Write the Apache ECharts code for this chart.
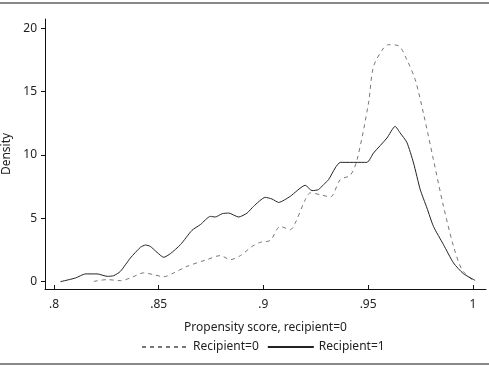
<!DOCTYPE html>
<html>
<head>
<meta charset="utf-8">
<script src="https://cdn.jsdelivr.net/npm/echarts@6/dist/echarts.min.js"></script>
<style>
  html, body { margin: 0; padding: 0; background: #fff; }
  #chart1 { width: 489px; height: 366px; }
</style>
</head>
<body>
<div id="chart1"></div>
<script>
// Recipient=0 (dashed)
const scoreR0 = [0.819, 0.8254, 0.8317, 0.8365, 0.8428, 0.8476, 0.8524, 0.8572, 0.8636, 0.8731, 0.8794, 0.8842, 0.889,
    0.8946, 0.8985, 0.9033, 0.9081, 0.9128, 0.9152, 0.92, 0.9224, 0.9272, 0.9319, 0.9367, 0.9415, 0.9447, 0.9502,
    0.9526, 0.9574, 0.9597, 0.9645, 0.9685, 0.9725, 0.9764, 0.9812, 0.986, 0.9908, 0.9948, 0.9987, 1.0011];
const densityR0 = [0.02, 0.16, 0.08, 0.29, 0.69, 0.55, 0.39, 0.69, 1.21, 1.74, 2.05, 1.74, 2.05,
    2.78, 3.1, 3.26, 4.36, 4.1, 4.63, 6.47, 7.0, 6.86, 6.68, 8.04, 8.4, 9.6, 14.1,
    16.98, 18.43, 18.69, 18.61, 17.51, 15.93, 13.3, 9.62, 5.94, 2.78, 0.95, 0.29, 0.02];

// Recipient=1 (solid)
const scoreR1 = [0.8031, 0.8103, 0.815, 0.8206, 0.8254, 0.8285, 0.8317, 0.8365, 0.8413, 0.8437, 0.846, 0.8492, 0.8524,
    0.8556, 0.8604, 0.8659, 0.8699, 0.8747, 0.877, 0.8803, 0.8834, 0.8882, 0.8922, 0.8953, 0.9009, 0.9041, 0.9073,
    0.9128, 0.92, 0.9232, 0.9263, 0.9287, 0.9311, 0.9343, 0.9367, 0.9494, 0.9526, 0.959, 0.9629, 0.9653, 0.9685,
    0.9717, 0.9749, 0.9781, 0.9812, 0.986, 0.9908, 0.9955, 1.0011];
const densityR1 = [0.0, 0.29, 0.61, 0.61, 0.42, 0.47, 0.81, 1.87, 2.71, 2.89, 2.78, 2.31, 1.92,
    2.21, 2.92, 4.05, 4.5, 5.15, 5.1, 5.36, 5.41, 5.1, 5.41, 5.94, 6.65, 6.52, 6.25,
    6.73, 7.6, 7.18, 7.26, 7.65, 8.04, 8.97, 9.41, 9.41, 10.15, 11.33, 12.25, 11.73, 10.99,
    9.36, 7.26, 5.81, 4.36, 2.92, 1.47, 0.63, 0.1];

const xTicks = [0.8, 0.85, 0.9, 0.95, 1];
const xTickLabels = ['.8', '.85', '.9', '.95', '1'];
const yTicks = [0, 5, 10, 15, 20];

const font = 'Noto Sans';
const chart = echarts.init(document.getElementById('chart1'));

const option = {
    animation: false,
    backgroundColor: '#fff',
    grid: { left: 45, right: 3, top: 19, bottom: 77, containLabel: false, outerBoundsMode: 'none' },
    legend: {
        left: 136,
        top: 336,
        itemWidth: 46,
        itemHeight: 8,
        itemGap: 8,
        itemStyle: { opacity: 0 },
        textStyle: { fontFamily: font, fontSize: 12, color: '#222' },
        data: ['Recipient=0', 'Recipient=1']
    },
    xAxis: {
        type: 'value',
        min: 0.7957,
        max: 1.0063,
        name: 'Propensity score, recipient=0',
        nameLocation: 'middle',
        nameGap: 33,
        nameTextStyle: { fontFamily: font, fontSize: 12, color: '#222' },
        axisLine: { show: true, onZero: false, lineStyle: { color: '#111', width: 1 } },
        axisTick: { show: true, inside: true, length: 4, customValues: xTicks, lineStyle: { color: '#111' } },
        axisLabel: {
            customValues: xTicks,
            margin: 10,
            fontFamily: font, fontSize: 12, color: '#222',
            formatter: v => xTickLabels[xTicks.findIndex(t => Math.abs(t - v) < 1e-6)]
        },
        splitLine: { show: false }
    },
    yAxis: {
        type: 'value',
        min: -0.58,
        max: 20.72,
        name: 'Density',
        nameLocation: 'middle',
        nameGap: 29,
        nameTextStyle: { fontFamily: font, fontSize: 12, color: '#222' },
        axisLine: { show: true, onZero: false, lineStyle: { color: '#111', width: 1 } },
        axisTick: { show: true, length: 4, customValues: yTicks, lineStyle: { color: '#111' } },
        axisLabel: { customValues: yTicks, margin: 8, fontFamily: font, fontSize: 12, color: '#222' },
        splitLine: { show: false }
    },
    graphic: [
        { type: 'line', shape: { x1: 0, y1: 3, x2: 489, y2: 3 }, style: { stroke: '#111', lineWidth: 1 } },
        { type: 'line', shape: { x1: 0, y1: 364, x2: 489, y2: 364 }, style: { stroke: '#111', lineWidth: 1 } }
    ],
    series: [
        {
            name: 'Recipient=0',
            type: 'line',
            symbol: 'none',
            smooth: 0.3,
            lineStyle: { color: '#777', width: 1, type: [4, 4] },
            itemStyle: { color: '#777' },
            data: scoreR0.map((x, i) => [x, densityR0[i]])
        },
        {
            name: 'Recipient=1',
            type: 'line',
            symbol: 'none',
            smooth: 0.2,
            lineStyle: { color: '#222', width: 1 },
            itemStyle: { color: '#222' },
            data: scoreR1.map((x, i) => [x, densityR1[i]])
        }
    ]
};

chart.setOption(option);
window.addEventListener('resize', function () { chart.resize(); });
</script>
</body>
</html>
